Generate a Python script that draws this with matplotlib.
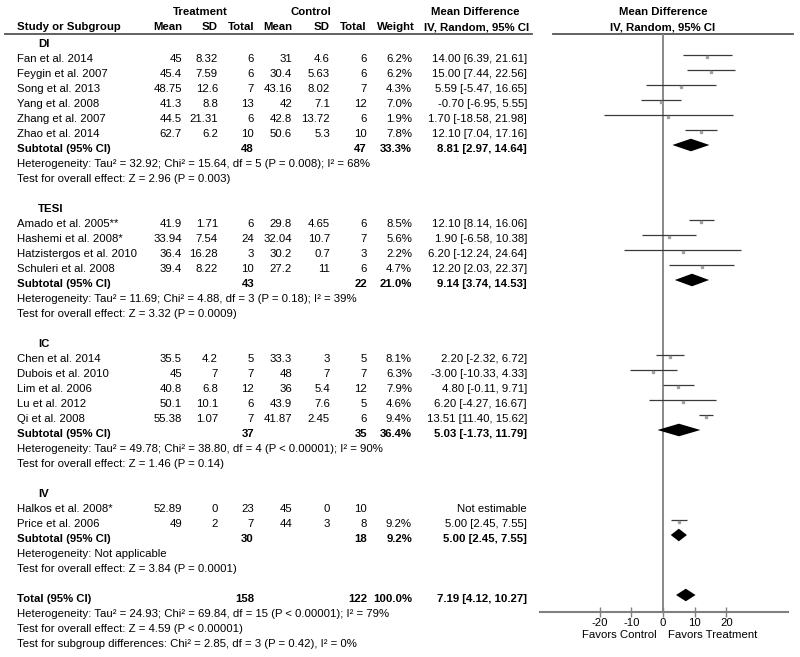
import matplotlib
matplotlib.use("Agg")
import matplotlib.pyplot as plt

plt.rcParams['font.family'] = ['Liberation Sans', 'DejaVu Sans']
plt.rcParams['font.size'] = 8.2

# ---- data ----
groups = ["DI", "TESI", "IC", "IV"]

study_names = [
    ["Fan et al. 2014", "Feygin et al. 2007", "Song et al. 2013", "Yang et al. 2008",
     "Zhang et al. 2007", "Zhao et al. 2014"],
    ["Amado et al. 2005**", "Hashemi et al. 2008*", "Hatzistergos et al. 2010",
     "Schuleri et al. 2008"],
    ["Chen et al. 2014", "Dubois et al. 2010", "Lim et al. 2006", "Lu et al. 2012",
     "Qi et al. 2008"],
    ["Halkos et al. 2008*", "Price et al. 2006"],
]
t_mean = [["45", "45.4", "48.75", "41.3", "44.5", "62.7"],
          ["41.9", "33.94", "36.4", "39.4"],
          ["35.5", "45", "40.8", "50.1", "55.38"],
          ["52.89", "49"]]
t_sd = [["8.32", "7.59", "12.6", "8.8", "21.31", "6.2"],
        ["1.71", "7.54", "16.28", "8.22"],
        ["4.2", "7", "6.8", "10.1", "1.07"],
        ["0", "2"]]
t_n = [[6, 6, 7, 13, 6, 10], [6, 24, 3, 10], [5, 7, 12, 6, 7], [23, 7]]
c_mean = [["31", "30.4", "43.16", "42", "42.8", "50.6"],
          ["29.8", "32.04", "30.2", "27.2"],
          ["33.3", "48", "36", "43.9", "41.87"],
          ["45", "44"]]
c_sd = [["4.6", "5.63", "8.02", "7.1", "13.72", "5.3"],
        ["4.65", "10.7", "0.7", "11"],
        ["3", "7", "5.4", "7.6", "2.45"],
        ["0", "3"]]
c_n = [[6, 6, 7, 12, 6, 10], [6, 7, 3, 6], [5, 7, 12, 5, 6], [10, 8]]
weight = [[6.2, 6.2, 4.3, 7.0, 1.9, 7.8], [8.5, 5.6, 2.2, 4.7],
          [8.1, 6.3, 7.9, 4.6, 9.4], [None, 9.2]]
md = [[14.00, 15.00, 5.59, -0.70, 1.70, 12.10], [12.10, 1.90, 6.20, 12.20],
      [2.20, -3.00, 4.80, 6.20, 13.51], [None, 5.00]]
lo = [[6.39, 7.44, -5.47, -6.95, -18.58, 7.04], [8.14, -6.58, -12.24, 2.03],
      [-2.32, -10.33, -0.11, -4.27, 11.40], [None, 2.45]]
hi = [[21.61, 22.56, 16.65, 5.55, 21.98, 17.16], [16.06, 10.38, 24.64, 22.37],
      [6.72, 4.33, 9.71, 16.67, 15.62], [None, 7.55]]

sub_t_n = [48, 43, 37, 30]
sub_c_n = [47, 22, 35, 18]
sub_weight = [33.3, 21.0, 36.4, 9.2]
sub_md = [8.81, 9.14, 5.03, 5.00]
sub_lo = [2.97, 3.74, -1.73, 2.45]
sub_hi = [14.64, 14.53, 11.79, 7.55]
sub_het = [
    "Heterogeneity: Tau² = 32.92; Chi² = 15.64, df = 5 (P = 0.008); I² = 68%",
    "Heterogeneity: Tau² = 11.69; Chi² = 4.88, df = 3 (P = 0.18); I² = 39%",
    "Heterogeneity: Tau² = 49.78; Chi² = 38.80, df = 4 (P < 0.00001); I² = 90%",
    "Heterogeneity: Not applicable",
]
sub_test = [
    "Test for overall effect: Z = 2.96 (P = 0.003)",
    "Test for overall effect: Z = 3.32 (P = 0.0009)",
    "Test for overall effect: Z = 1.46 (P = 0.14)",
    "Test for overall effect: Z = 3.84 (P = 0.0001)",
]

total_t_n, total_c_n = 158, 122
total_md, total_lo, total_hi = 7.19, 4.12, 10.27
total_notes = [
    "Heterogeneity: Tau² = 24.93; Chi² = 69.84, df = 15 (P < 0.00001); I² = 79%",
    "Test for overall effect: Z = 4.59 (P < 0.00001)",
    "Test for subgroup differences: Chi² = 2.85, df = 3 (P = 0.42), I² = 0%",
]
xticks = [-20, -10, 0, 10, 20]

# ---- layout (pixels) ----
W, H = 800, 657
ROW0, STEP = 10, 15          # mark y of row 0, row step
TXT_OFF = 4                  # text sits a bit lower than the marks
X_STUDY, X_GROUP = 17, 38
X_TM, X_TSD, X_TN = 182, 218, 254
X_CM, X_CSD, X_CN = 292, 330, 367
X_W, X_MD = 412, 527
AX_L, AX_R, AX_Y, AX_TOP = 540, 788, 612, 34
ZERO_PX, PX_PER_UNIT = 663, 3.17
HEAD_Y = [12, 27]
LINE_Y = 34

fig = plt.figure(figsize=(W / 100, H / 100), dpi=100)
ax_t = fig.add_axes([0, 0, 1, 1])
ax_t.set_xlim(0, W)
ax_t.set_ylim(H, 0)
ax_t.axis('off')

ax = fig.add_axes([AX_L / W, (H - AX_Y) / H, (AX_R - AX_L) / W, (AX_Y - AX_TOP) / H])
ax.set_xlim((AX_L - ZERO_PX) / PX_PER_UNIT, (AX_R - ZERO_PX) / PX_PER_UNIT)
ax.set_ylim((AX_Y - ROW0) / STEP, (AX_TOP - ROW0) / STEP)
for s in ['top', 'left', 'right']:
    ax.spines[s].set_visible(False)
ax.spines['bottom'].set_color('#808080')
ax.spines['bottom'].set_linewidth(1.5)
ax.set_yticks([])
ax.set_xticks(xticks)
ax.set_xticklabels([str(v) for v in xticks])
ax.tick_params(axis='x', direction='inout', length=7, width=1, color='#808080',
               labelsize=8.2, pad=1)
ax.axvline(0, color='#808080', lw=1.3, zorder=1)
ax.patch.set_alpha(0)


def ty(r):
    return ROW0 + STEP * r + TXT_OFF


def txt(x, r, s, ha='right', bold=False, y=None):
    ax_t.text(x, ty(r) if y is None else y, s, ha=ha, va='center',
              fontweight='bold' if bold else 'normal', color='black')


def fmt_ci(m, l, h):
    return f"{m:.2f} [{l:.2f}, {h:.2f}]"


# ---- header ----
txt(200, 0, "Treatment", ha='center', bold=True, y=HEAD_Y[0])
txt(311, 0, "Control", ha='center', bold=True, y=HEAD_Y[0])
txt(475, 0, "Mean Difference", ha='center', bold=True, y=HEAD_Y[0])
txt(ZERO_PX, 0, "Mean Difference", ha='center', bold=True, y=HEAD_Y[0])
txt(X_STUDY, 1, "Study or Subgroup", ha='left', bold=True, y=HEAD_Y[1])
for x, s in [(X_TM, "Mean"), (X_TSD, "SD"), (X_TN + 1, "Total"), (X_CM, "Mean"),
             (X_CSD, "SD"), (X_CN, "Total"), (X_W + 3, "Weight")]:
    txt(x, 1, s, bold=True, y=HEAD_Y[1])
txt(477, 1, "IV, Random, 95% CI", ha='center', bold=True, y=HEAD_Y[1])
txt(ZERO_PX, 1, "IV, Random, 95% CI", ha='center', bold=True, y=HEAD_Y[1])
ax_t.plot([5, 532], [LINE_Y, LINE_Y], color='#555555', lw=1.3)
ax_t.plot([553, 793], [LINE_Y, LINE_Y], color='#555555', lw=1.3)

# ---- body ----
r = 2
for g in range(len(groups)):
    txt(X_GROUP, r, groups[g], ha='left', bold=True)
    r += 1
    for i, name in enumerate(study_names[g]):
        txt(X_STUDY, r, name, ha='left')
        txt(X_TM, r, t_mean[g][i])
        txt(X_TSD, r, t_sd[g][i])
        txt(X_TN, r, str(t_n[g][i]))
        txt(X_CM, r, c_mean[g][i])
        txt(X_CSD, r, c_sd[g][i])
        txt(X_CN, r, str(c_n[g][i]))
        if md[g][i] is None:
            txt(X_MD, r, "Not estimable")
        else:
            txt(X_W, r, f"{weight[g][i]:.1f}%")
            txt(X_MD, r, fmt_ci(md[g][i], lo[g][i], hi[g][i]))
            ax.hlines(r, lo[g][i], hi[g][i], color='#3a3a3a', lw=0.9, zorder=2)
            ax.plot(md[g][i], r + 0.1, marker='s', ms=1.6, color='#a0a0a0',
                    mec='#a0a0a0', zorder=3)
        r += 1
    txt(X_STUDY, r, "Subtotal (95% CI)", ha='left', bold=True)
    txt(X_TN, r, str(sub_t_n[g]), bold=True)
    txt(X_CN, r, str(sub_c_n[g]), bold=True)
    txt(X_W, r, f"{sub_weight[g]:.1f}%", bold=True)
    txt(X_MD, r, fmt_ci(sub_md[g], sub_lo[g], sub_hi[g]), bold=True)
    ax.fill([sub_lo[g], sub_md[g], sub_hi[g], sub_md[g]],
            [r, r - 0.42, r, r + 0.42], color='black', lw=0, zorder=3)
    r += 1
    txt(X_STUDY, r, sub_het[g], ha='left')
    r += 1
    txt(X_STUDY, r, sub_test[g], ha='left')
    r += 2

txt(X_STUDY, r, "Total (95% CI)", ha='left', bold=True)
txt(X_TN, r, str(total_t_n), bold=True)
txt(X_CN, r, str(total_c_n), bold=True)
txt(X_W, r, "100.0%", bold=True)
txt(X_MD, r, fmt_ci(total_md, total_lo, total_hi), bold=True)
ax.fill([total_lo, total_md, total_hi, total_md], [r, r - 0.42, r, r + 0.42],
        color='black', lw=0, zorder=3)
for note in total_notes:
    r += 1
    txt(X_STUDY, r, note, ha='left')

ax_t.text(657, 635, "Favors Control", ha='right', va='center')
ax_t.text(668, 635, "Favors Treatment", ha='left', va='center')

fig.savefig("out.png", dpi=100)
